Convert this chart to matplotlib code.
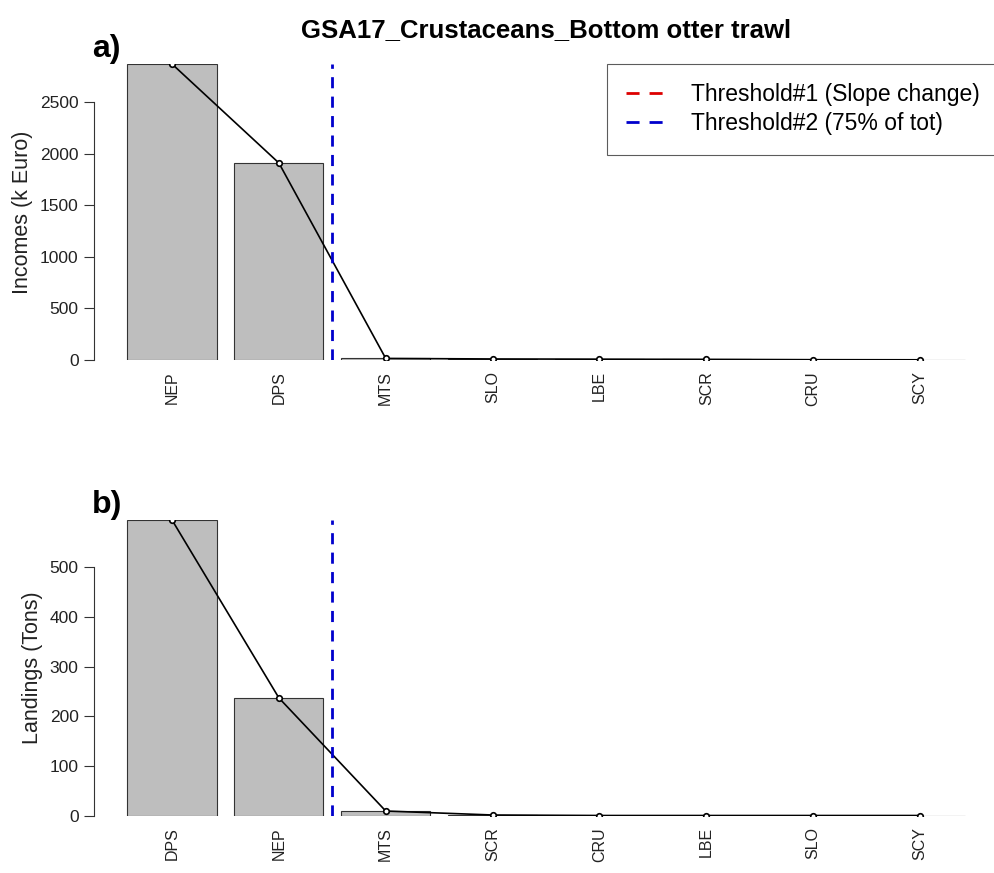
import matplotlib
matplotlib.use("Agg")
import matplotlib.pyplot as plt
from matplotlib.lines import Line2D
import numpy as np

plt.rcParams['font.family'] = ['Liberation Sans', 'DejaVu Sans']

title = "GSA17_Crustaceans_Bottom otter trawl"
inc_species = ["NEP", "DPS", "MTS", "SLO", "LBE", "SCR", "CRU", "SCY"]
inc_values = [2868, 1909, 15, 10, 8, 6, 3, 2]
land_species = ["DPS", "NEP", "MTS", "SCR", "CRU", "LBE", "SLO", "SCY"]
land_values = [594, 237, 10, 2, 1, 1, 1, 1]
threshold2_pos = 2.5
inc_yticks = [0, 500, 1000, 1500, 2000, 2500]
land_yticks = [0, 100, 200, 300, 400, 500]

W, H = 994, 873
fig = plt.figure(figsize=(W/100, H/100), dpi=100)

def px_axes(x0, y0, x1, y1):
    return fig.add_axes([x0/W, 1 - y1/H, (x1-x0)/W, (y1-y0)/H])

def panel(ax, names, vals, yticks, ylabel, tag):
    n = len(vals)
    centers = 0.7 + 1.2*np.arange(n)
    ax.bar(centers, vals, width=1.0, color="#bebebe", edgecolor="#333333", linewidth=0.8, zorder=2)
    ax.plot(centers, vals, color="black", lw=1.2, zorder=3)
    ax.plot(centers, vals, 'o', ms=4, mfc="white", mec="black", mew=1.2, zorder=4)
    ax.axvline(threshold2_pos, color="#0000cc", ls=(0, (4, 3)), lw=2, zorder=5)
    ax.set_xlim(-0.176, 9.93)
    ax.set_ylim(0, max(vals))
    for s in ["top", "right", "bottom"]:
        ax.spines[s].set_visible(False)
    ax.spines["left"].set_bounds(yticks[0], yticks[-1])
    ax.spines["left"].set_color("#333333")
    ax.set_yticks(yticks)
    ax.set_yticklabels([str(t) for t in yticks], fontsize=12.5, color="#222222")
    ax.tick_params(axis="y", length=7, color="#333333", pad=4)
    ax.set_xticks(centers)
    ax.set_xticklabels(names, rotation=90, fontsize=11.5, color="#222222")
    ax.tick_params(axis="x", length=0, pad=8)
    ax.set_ylabel(ylabel, fontsize=15.5, color="#222222", labelpad=5)
    ax.text(-0.002, 1.0, tag, transform=ax.transAxes, fontsize=23, fontweight="bold",
            ha="left", va="bottom")
    ax.patch.set_alpha(0)

ax1 = px_axes(94, 64, 994, 360)
panel(ax1, inc_species, inc_values, inc_yticks, "Incomes (k Euro)", "a)")
ax2 = px_axes(94, 520, 994, 816)
panel(ax2, land_species, land_values, land_yticks, "Landings (Tons)", "b)")

fig.text(546/W, 1 - 30/H, title, fontsize=18.5, fontweight="bold", ha="center", va="center")

handles = [Line2D([], [], color="#dd0000", ls=(0, (4.7, 3.6)), lw=2),
           Line2D([], [], color="#0000cc", ls=(0, (4.7, 3.6)), lw=2)]
leg = ax1.legend(handles, ["Threshold#1 (Slope change)", "Threshold#2 (75% of tot)"],
                 loc="upper left", bbox_to_anchor=(607/W, 1 - 64/H),
                 bbox_transform=fig.transFigure, frameon=True, fancybox=False,
                 fontsize=16.5, handlelength=1.7, borderpad=0.85, labelspacing=0.25,
                 handletextpad=1.1, borderaxespad=0)
leg.get_frame().set_edgecolor("#333333")
leg.get_frame().set_linewidth(0.8)

fig.savefig("out.png", dpi=100)
